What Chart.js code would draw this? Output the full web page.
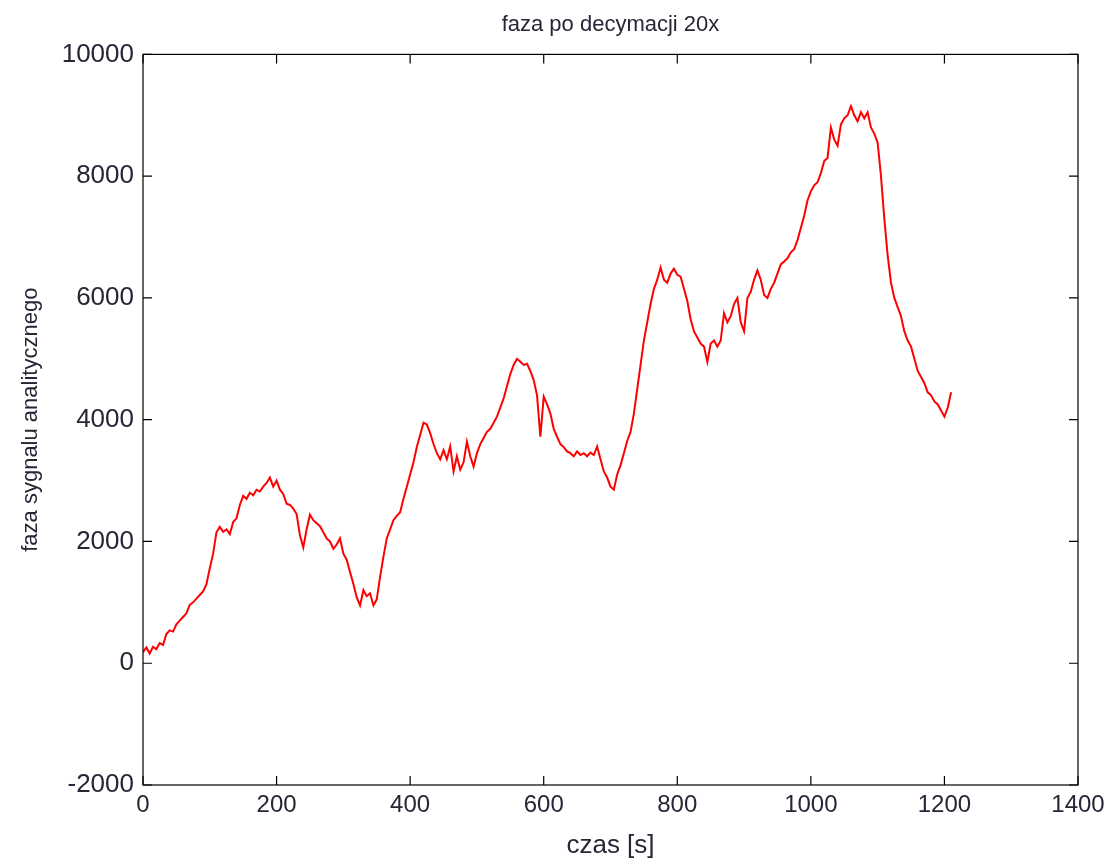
<!DOCTYPE html>
<html>
<head>
<meta charset="utf-8">
<script src="https://cdn.jsdelivr.net/npm/chart.js@4/dist/chart.umd.min.js"></script>
<style>
  html, body { margin: 0; padding: 0; background: #fff; }
  canvas { display: block; }
</style>
</head>
<body>
<canvas id="phaseChart" width="1104" height="863"></canvas>
<script>
// time axis [s], one sample every 5 s
var czas = [];
for (var t = 0; t <= 1210; t += 5) czas.push(t);

// phase
var faza = [
  180, 260, 160, 270, 230, 330, 300, 480, 540, 520,
  640, 700, 760, 820, 960, 1000, 1060, 1120, 1180, 1300,
  1560, 1800, 2150, 2240, 2160, 2200, 2120, 2320, 2380, 2600,
  2750, 2700, 2800, 2760, 2850, 2820, 2900, 2960, 3050, 2900,
  3000, 2850, 2780, 2620, 2600, 2540, 2450, 2100, 1900, 2200,
  2440, 2350, 2300, 2250, 2150, 2050, 2000, 1880, 1950, 2050,
  1800, 1700, 1500, 1300, 1080, 950, 1200, 1100, 1150, 950,
  1050, 1420, 1750, 2050, 2200, 2350, 2420, 2480, 2700, 2900,
  3100, 3300, 3550, 3750, 3950, 3920, 3780, 3600, 3450, 3350,
  3500, 3350, 3560, 3150, 3400, 3180, 3300, 3640, 3400, 3230,
  3450, 3600, 3700, 3800, 3850, 3950, 4050, 4200, 4350, 4550,
  4750, 4900, 5000, 4950, 4900, 4920, 4800, 4650, 4400, 3720,
  4380, 4250, 4100, 3850, 3720, 3600, 3550, 3480, 3450, 3400,
  3480, 3420, 3450, 3400, 3460, 3420, 3560, 3350, 3150, 3050,
  2900, 2850, 3100, 3250, 3450, 3650, 3800, 4100, 4500, 4900,
  5300, 5600, 5900, 6150, 6300, 6500, 6300, 6250, 6400, 6480,
  6380, 6350, 6150, 5950, 5650, 5450, 5350, 5250, 5200, 4950,
  5250, 5300, 5200, 5300, 5750, 5600, 5700, 5900, 6000, 5600,
  5450, 6000, 6100, 6300, 6450, 6300, 6050, 6000, 6150, 6250,
  6400, 6550, 6600, 6650, 6750, 6800, 6950, 7150, 7350, 7600,
  7750, 7850, 7900, 8050, 8250, 8300, 8800, 8600, 8500, 8850,
  8950, 9000, 9150, 9000, 8900, 9050, 8950, 9050, 8800, 8700,
  8550, 8000, 7300, 6700, 6250, 6000, 5850, 5700, 5450, 5300,
  5200, 5000, 4800, 4700, 4600, 4450, 4400, 4300, 4250, 4150,
  4050, 4200, 4450
];

var xTicks = [0, 200, 400, 600, 800, 1000, 1200, 1400];
var yTicks = [-2000, 0, 2000, 4000, 6000, 8000, 10000];

var points = czas.map(function (t, i) { return { x: t, y: faza[i] }; });

// matlab style box with inward ticks on all sides
var boxPlugin = {
  id: "box",
  afterDraw: function (chart) {
    var ctx = chart.ctx, a = chart.chartArea;
    var xs = chart.scales.x, ys = chart.scales.y;
    var len = 9;
    ctx.save();
    ctx.strokeStyle = "#000";
    ctx.lineWidth = 1.2;
    ctx.strokeRect(a.left, a.top, a.right - a.left, a.bottom - a.top);
    ctx.beginPath();
    xTicks.forEach(function (v) {
      var px = xs.getPixelForValue(v);
      ctx.moveTo(px, a.bottom); ctx.lineTo(px, a.bottom - len);
      ctx.moveTo(px, a.top); ctx.lineTo(px, a.top + len);
    });
    yTicks.forEach(function (v) {
      var py = ys.getPixelForValue(v);
      ctx.moveTo(a.left, py); ctx.lineTo(a.left + len, py);
      ctx.moveTo(a.right, py); ctx.lineTo(a.right - len, py);
    });
    ctx.stroke();
    ctx.restore();
  }
};

function plain(v) { return String(v); }

var FONT = "'Liberation Sans', Arial, sans-serif";
var TXT = "#262636";

var ctx = document.getElementById("phaseChart").getContext("2d");
new Chart(ctx, {
  type: "line",
  data: {
    datasets: [{
      label: "faza",
      data: points,
      borderColor: "#ff0000",
      borderWidth: 2,
      pointRadius: 0,
      tension: 0,
      fill: false
    }]
  },
  options: {
    responsive: false,
    animation: false,
    layout: { padding: { top: 0, right: 26, left: 0, bottom: 0 } },
    plugins: {
      legend: { display: false },
      tooltip: { enabled: false },
      title: {
        display: true,
        text: "faza po decymacji 20x",
        fullSize: false,
        color: TXT,
        font: { family: FONT, size: 22, weight: "normal" },
        padding: { top: 12, bottom: 16 }
      }
    },
    scales: {
      x: {
        type: "linear",
        min: 0,
        max: 1400,
        afterBuildTicks: function (s) { s.ticks = xTicks.map(function (v) { return { value: v }; }); },
        afterFit: function (s) { s.height = 78; s.paddingRight = 0; s.paddingLeft = 0; },
        grid: { display: false, drawTicks: false },
        border: { display: false },
        ticks: {
          color: TXT,
          padding: 6,
          maxRotation: 0,
          callback: plain,
          font: { family: FONT, size: 24 }
        },
        title: {
          display: true,
          text: "czas [s]",
          color: TXT,
          padding: { top: 0, bottom: 2 },
          font: { family: FONT, size: 26 }
        }
      },
      y: {
        min: -2000,
        max: 10000,
        afterBuildTicks: function (s) { s.ticks = yTicks.map(function (v) { return { value: v }; }); },
        afterFit: function (s) { s.width = 143; },
        grid: { display: false, drawTicks: false },
        border: { display: false },
        ticks: {
          color: TXT,
          padding: 9,
          callback: plain,
          font: { family: FONT, size: 26 }
        },
        title: {
          display: true,
          text: "faza sygnalu analitycznego",
          color: TXT,
          padding: { top: 18, bottom: 2 },
          font: { family: FONT, size: 22 }
        }
      }
    }
  },
  plugins: [boxPlugin]
});
</script>
</body>
</html>
